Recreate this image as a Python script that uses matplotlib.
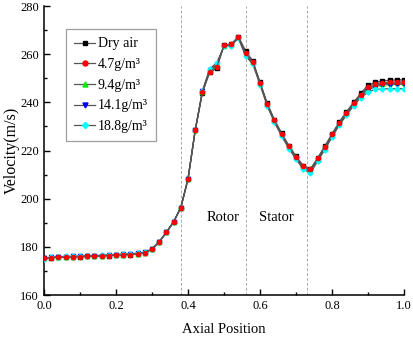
import numpy as np
import matplotlib
matplotlib.use("Agg")
import matplotlib.pyplot as plt
from matplotlib.ticker import MultipleLocator

plt.rcParams['font.family'] = ['Liberation Serif', 'DejaVu Serif']

# axial position of the sample points
x = [0.00, 0.02, 0.04, 0.06, 0.08, 0.10, 0.12, 0.14, 0.16, 0.18,
     0.20, 0.22, 0.24, 0.26, 0.28, 0.30, 0.32, 0.34, 0.36, 0.38,
     0.40, 0.42, 0.44, 0.46, 0.48, 0.50, 0.52, 0.54, 0.56, 0.58,
     0.60, 0.62, 0.64, 0.66, 0.68, 0.70, 0.72, 0.74, 0.76, 0.78,
     0.80, 0.82, 0.84, 0.86, 0.88, 0.90, 0.92, 0.94, 0.96, 0.98, 1.00]

dry_air = [175.4, 175.5, 175.7, 175.7, 175.8, 175.9, 176.0, 176.1, 176.2, 176.4,
           176.5, 176.7, 176.8, 177.1, 177.6, 179.0, 182.1, 186.0, 190.4, 196.3,
           208.2, 228.4, 244.0, 252.4, 254.1, 263.7, 264.1, 267.3, 261.4, 257.2,
           248.4, 239.6, 232.8, 227.2, 222.0, 217.6, 213.7, 212.3, 216.9, 221.8,
           226.9, 231.8, 236.1, 240.0, 243.8, 247.2, 248.3, 248.9, 249.2, 249.3, 249.3]

v_47 = [175.4, 175.5, 175.7, 175.7, 175.8, 175.9, 176.0, 176.1, 176.2, 176.4,
        176.5, 176.7, 176.8, 177.1, 177.6, 179.0, 182.1, 186.0, 190.4, 196.3,
        208.2, 228.4, 244.2, 252.6, 254.8, 263.7, 264.1, 267.3, 260.4, 256.9,
        248.1, 239.4, 232.6, 227.0, 221.9, 217.5, 213.6, 212.2, 216.7, 221.6,
        226.7, 231.5, 235.7, 239.6, 243.2, 246.5, 247.6, 248.2, 248.4, 248.4, 248.5]

v_94 = [175.4, 175.6, 175.8, 175.8, 175.9, 176.0, 176.1, 176.2, 176.3, 176.5,
        176.6, 176.8, 176.9, 177.2, 177.6, 179.0, 182.1, 186.0, 190.4, 196.3,
        208.2, 228.4, 244.4, 253.0, 255.4, 263.6, 264.0, 267.1, 260.0, 256.6,
        248.0, 239.2, 232.3, 226.7, 221.6, 217.2, 213.2, 211.8, 216.3, 221.2,
        226.3, 231.2, 235.4, 239.3, 242.9, 245.8, 247.0, 247.7, 247.9, 248.0, 248.0]

v_141 = [175.3, 175.6, 175.8, 175.9, 176.0, 176.1, 176.2, 176.3, 176.4, 176.6,
         176.7, 176.9, 177.0, 177.3, 177.7, 179.0, 182.1, 186.0, 190.4, 196.3,
         208.2, 228.4, 244.6, 253.4, 255.9, 263.4, 263.8, 266.9, 259.6, 256.3,
         247.8, 238.9, 232.0, 226.4, 221.3, 216.9, 212.8, 211.4, 216.0, 220.9,
         226.0, 230.9, 235.1, 239.0, 242.6, 245.1, 246.5, 247.2, 247.4, 247.5, 247.5]

v_188 = [175.0, 175.6, 175.9, 176.0, 176.1, 176.2, 176.3, 176.4, 176.5, 176.7,
         176.8, 177.0, 177.1, 177.4, 177.8, 179.1, 182.1, 186.0, 190.4, 196.3,
         208.2, 228.4, 244.8, 253.8, 256.5, 263.2, 263.6, 266.6, 259.2, 255.9,
         247.3, 238.5, 231.7, 226.0, 220.8, 216.4, 212.2, 210.7, 215.5, 220.4,
         225.5, 230.5, 234.6, 238.6, 242.0, 244.2, 245.4, 245.5, 245.7, 245.7, 245.7]

series = [dry_air, v_47, v_94, v_141, v_188]
labels = ['Dry air', '4.7g/m³', '9.4g/m³', '14.1g/m³', '18.8g/m³']
colors = ['black', 'red', '#00ee00', 'blue', 'cyan']
markers = ['s', 'o', '^', 'v', 'D']
zorders = [4, 7, 5, 5, 6]

fig = plt.figure(figsize=(4.14, 3.38), dpi=100)
ax = fig.add_axes([0.1063, 0.1272, 0.8696, 0.855])

for y, lab, c, m, z in zip(series, labels, colors, markers, zorders):
    ax.plot(x, y, color='#555555', lw=0.9, marker=m, markersize=3.0 if m != 'D' else 2.6,
            markerfacecolor=c, markeredgecolor=c, label=lab, zorder=z)

for xv in [0.38, 0.56, 0.73]:
    ax.axvline(xv, color='#aaaaaa', lw=0.7, ls=(0, (3, 2)), zorder=1)

ax.text(0.497, 192.3, 'Rotor', ha='center', va='center', fontsize=10.5)
ax.text(0.645, 192.3, 'Stator', ha='center', va='center', fontsize=10.5)

ax.set_xlim(0, 1.0)
ax.set_ylim(160, 280)
ax.xaxis.set_major_locator(MultipleLocator(0.2))
ax.xaxis.set_minor_locator(MultipleLocator(0.1))
ax.yaxis.set_major_locator(MultipleLocator(20))
ax.yaxis.set_minor_locator(MultipleLocator(10))
ax.tick_params(which='both', direction='in', labelsize=9, width=1)
ax.tick_params(which='major', length=4)
ax.tick_params(which='minor', length=2.5)
ax.spines['top'].set_visible(False)
ax.spines['right'].set_visible(False)
ax.spines['left'].set_linewidth(1.1)
ax.spines['bottom'].set_linewidth(1.1)

ax.set_xlabel('Axial Position', fontsize=10.5, labelpad=8)
ax.set_ylabel('Velocity(m/s)', fontsize=11.5, labelpad=0.5)

leg = ax.legend(loc='upper left', bbox_to_anchor=(0.061, 0.92), borderaxespad=0,
                fontsize=10, frameon=True, fancybox=False, edgecolor='#888888',
                handlelength=1.5, handletextpad=0.2, labelspacing=0.55,
                borderpad=0.6, markerscale=1.2)
leg.get_frame().set_linewidth(0.9)

fig.savefig('out.png', dpi=100)
